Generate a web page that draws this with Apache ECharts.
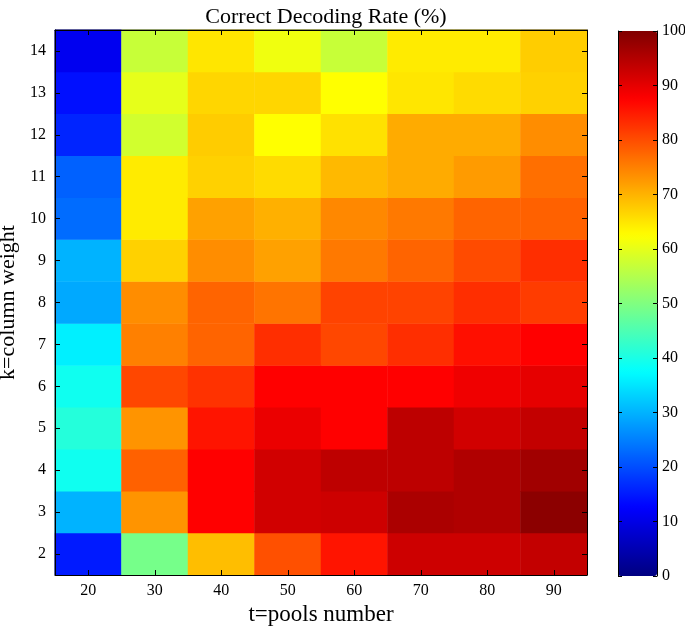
<!DOCTYPE html>
<html>
<head>
<meta charset="utf-8">
<script src="https://cdn.jsdelivr.net/npm/echarts@6/dist/echarts.min.js"></script>
<style>
html,body{margin:0;padding:0;background:#fff;}
#c{width:685px;height:626px;}
</style>
</head>
<body>
<div id="c"></div>
<script>
// Categories
var tPools = ['20','30','40','50','60','70','80','90'];
var kWeights = ['2','3','4','5','6','7','8','9','10','11','12','13','14'];
var colorbarTicks = [0,10,20,30,40,50,60,70,80,90,100];

// Correct decoding rate (%) per t column, for k = 2..14
var rateT20 = [15, 30, 39, 41, 39, 36, 29, 30, 23, 22, 16, 14, 11];
var rateT30 = [49, 73, 78, 73, 80.6, 75, 73.7, 67, 64.5, 64.5, 58, 60, 57];
var rateT40 = [68.9, 87.5, 87.5, 85.5, 82.6, 77.7, 77.7, 73.7, 71.8, 67, 67.5, 66.5, 65];
var rateT50 = [79.7, 92, 92, 89.5, 87.5, 83, 76.2, 71.8, 70.3, 66, 62.5, 66.5, 61];
var rateT60 = [85.5, 92.4, 93.9, 87.5, 87.5, 80.6, 81, 75.7, 74.2, 69.4, 65.5, 62.5, 57];
var rateT70 = [92.4, 95.8, 94, 94, 87.5, 83, 81, 77.7, 75.7, 70.8, 70.8, 65, 64.5];
var rateT80 = [92.4, 95.3, 95.3, 92, 89, 86, 83, 80.2, 77.7, 72.3, 70.8, 66, 64.5];
var rateT90 = [93.4, 98.8, 96.8, 93.4, 90, 87.5, 81.6, 83, 78, 76.7, 73.7, 67, 67.4];

var columns = [rateT20, rateT30, rateT40, rateT50, rateT60, rateT70, rateT80, rateT90];
var heatData = [];
columns.forEach(function (col, xi) {
  col.forEach(function (v, yi) { heatData.push([xi, yi, v]); });
});

var jet = ['#000080','#0000FF','#0080FF','#00FFFF','#80FF80','#FFFF00','#FF8000','#FF0000','#800000'];
var serif = 'Liberation Serif';
var tick = {show: true, inside: true, alignWithLabel: true, length: 5, lineStyle: {color: '#000'}};

var chart = echarts.init(document.getElementById('c'), null, {renderer: 'canvas'});
chart.setOption({
  backgroundColor: '#fff',
  animation: false,
  title: {
    text: 'Correct Decoding Rate (%)',
    left: 321, textAlign: 'center',
    top: 1,
    textStyle: {fontFamily: serif, fontWeight: 'normal', fontSize: 22, color: '#000'}
  },
  grid: [
    {left: 55, right: 98, top: 30, bottom: 51, show: true, borderColor: '#000', borderWidth: 1,
     backgroundColor: 'transparent', outerBoundsMode: 'none', containLabel: false},
    {left: 618, width: 39, top: 31, bottom: 50, show: false, outerBoundsMode: 'none', containLabel: false}
  ],
  xAxis: [
    {type: 'category', gridIndex: 0, data: tPools, position: 'bottom', z: 6,
     axisLine: {show: true, lineStyle: {color: '#000'}},
     axisTick: tick,
     axisLabel: {fontFamily: serif, fontSize: 16, color: '#000', margin: 8},
     splitLine: {show: false},
     name: 't=pools number', nameLocation: 'middle', nameGap: 23,
     nameTextStyle: {fontFamily: serif, fontSize: 23, color: '#000'}},
    {type: 'category', gridIndex: 0, data: tPools, position: 'top', z: 6,
     axisLine: {show: true, lineStyle: {color: '#000'}},
     axisTick: tick,
     axisLabel: {show: false}, splitLine: {show: false}},
    {type: 'category', gridIndex: 1, data: ['a'], show: false}
  ],
  yAxis: [
    {type: 'category', gridIndex: 0, data: kWeights, position: 'left', z: 6,
     axisLine: {show: true, lineStyle: {color: '#000'}},
     axisTick: tick,
     axisLabel: {fontFamily: serif, fontSize: 16, color: '#000', margin: 9},
     splitLine: {show: false},
     name: 'k=column weight', nameLocation: 'middle', nameGap: 33, nameRotate: 90,
     nameTextStyle: {fontFamily: serif, fontSize: 22, color: '#000'}},
    {type: 'category', gridIndex: 0, data: kWeights, position: 'right', z: 6,
     axisLine: {show: true, lineStyle: {color: '#000'}},
     axisTick: tick,
     axisLabel: {show: false}, splitLine: {show: false}},
    {type: 'value', gridIndex: 1, min: 0, max: 100, interval: 10, position: 'right', z: 6,
     axisLine: {show: true, lineStyle: {color: '#000'}},
     axisTick: {show: true, inside: true, length: 4, lineStyle: {color: '#000'}},
     axisLabel: {fontFamily: serif, fontSize: 16, color: '#000', margin: 5,
                 formatter: function (v) { return colorbarTicks.indexOf(v) >= 0 ? String(v) : ''; }},
     splitLine: {show: false}},
    {type: 'value', gridIndex: 1, min: 0, max: 100, interval: 10, position: 'left', z: 6,
     axisLine: {show: true, lineStyle: {color: '#000'}},
     axisTick: {show: true, inside: true, length: 4, lineStyle: {color: '#000'}},
     axisLabel: {show: false}, splitLine: {show: false}}
  ],
  visualMap: {
    type: 'continuous',
    min: 0, max: 100,
    seriesIndex: 0,
    calculable: false,
    orient: 'vertical',
    left: 618, top: 31,
    itemWidth: 39, itemHeight: 545,
    padding: 0,
    text: null,
    showLabel: false,
    inRange: {color: jet},
    z: 1
  },
  series: [{
    type: 'heatmap',
    xAxisIndex: 0, yAxisIndex: 0,
    data: heatData,
    itemStyle: {borderWidth: 0},
    emphasis: {disabled: true}
  }]
});
</script>
</body>
</html>
